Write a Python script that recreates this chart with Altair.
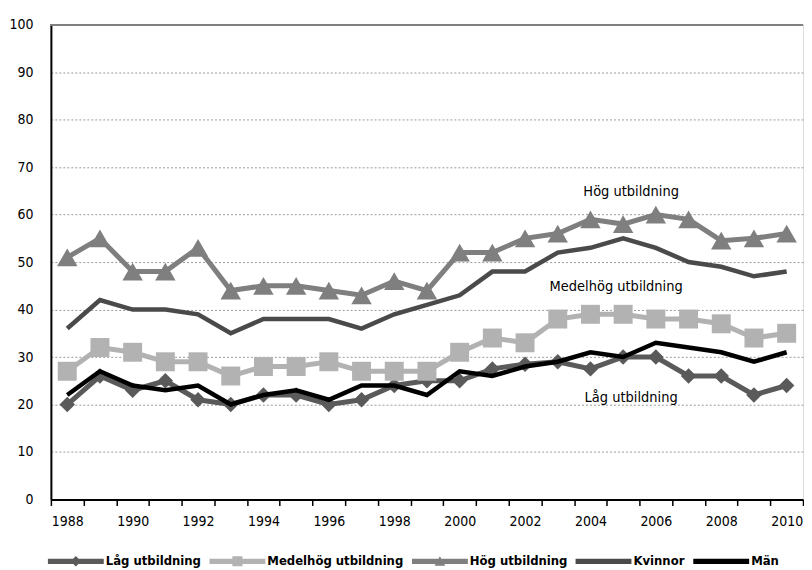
import altair as alt
import pandas as pd

years = list(range(1988, 2011))
lag = [20, 26, 23, 25, 21, 20, 22, 22, 20, 21, 24, 25, 25, 27.5, 28.5, 29, 27.5, 30, 30, 26, 26, 22, 24]
medel = [27, 32, 31, 29, 29, 26, 28, 28, 29, 27, 27, 27, 31, 34, 33, 38, 39, 39, 38, 38, 37, 34, 35]
hog = [51, 55, 48, 48, 53, 44, 45, 45, 44, 43, 46, 44, 52, 52, 55, 56, 59, 58, 60, 59, 54.5, 55, 56]
kvinnor = [36, 42, 40, 40, 39, 35, 38, 38, 38, 36, 39, 41, 43, 48, 48, 52, 53, 55, 53, 50, 49, 47, 48]
man = [22, 27, 24, 23, 24, 20, 22, 23, 21, 24, 24, 22, 27, 26, 28, 29, 31, 30, 33, 32, 31, 29, 31]

series_names = ["Låg utbildning", "Medelhög utbildning", "Hög utbildning", "Kvinnor", "Män"]
series_values = [lag, medel, hog, kvinnor, man]
series_colors = ["#5a5a5a", "#b2b2b2", "#7f7f7f", "#4a4a4a", "#000000"]
series_widths = [5, 5, 5, 4.5, 4.5]
series_markers = ["diamond", "square", "triangle-up", None, None]
marker_sizes = [240, 361, 420, 0, 0]

legend_paths = [
    "M-1,-0.095H1V0.095H-1ZM0,-0.19L0.19,0L0,0.19L-0.19,0Z",
    "M-1,-0.095H1V0.095H-1ZM-0.18,-0.18H0.18V0.18H-0.18Z",
    "M-1,-0.095H1V0.095H-1ZM0,-0.18L0.19,0.16H-0.19Z",
    "M-1,-0.095H1V0.095H-1Z",
    "M-1,-0.095H1V0.095H-1Z",
]

annot_text = ["Hög utbildning", "Medelhög utbildning", "Låg utbildning"]
annot_year = [2005, 2005, 2005]
annot_value = [64.7, 44.7, 21.4]
annot_dx = [8, -7, 8]

FONT = "DejaVu Sans Condensed, sans-serif"

rows = []
for name, vals in zip(series_names, series_values):
    for yr, v in zip(years, vals):
        rows.append({"year": yr, "value": v, "series": name})
df = pd.DataFrame(rows)

annot_df = pd.DataFrame({"text": annot_text, "year": annot_year, "value": annot_value})

x_enc = alt.X(
    "year:O",
    scale=alt.Scale(type="band", paddingInner=0, paddingOuter=0, domain=years),
    axis=alt.Axis(
        title=None,
        labelAngle=0,
        tickBand="extent",
        labelExpr="datum.value % 2 == 0 ? datum.label : ''",
        domainColor="#000000",
        domainWidth=2,
        tickColor="#000000",
        tickWidth=1.5,
        tickSize=6,
        labelFont=FONT,
        labelFontSize=14,
        labelColor="#000000",
        labelPadding=9,
        grid=False,
    ),
)
y_enc = alt.Y(
    "value:Q",
    scale=alt.Scale(domain=[0, 100], nice=False, zero=True),
    axis=alt.Axis(
        title=None,
        values=list(range(0, 101, 10)),
        domainColor="#000000",
        domainWidth=2,
        ticks=False,
        labelFont=FONT,
        labelFontSize=14,
        labelColor="#000000",
        labelPadding=18,
        grid=True,
        gridColor="#9a9a9a",
        gridDash=[2, 2],
        gridWidth=1,
    ),
)

base = alt.Chart(df)
layers = []

top_rule = alt.Chart(df).mark_rule(color="#808080", strokeWidth=1.5).encode(y=alt.datum(100))
layers.append(top_rule)

for name, color, width, marker, msize in zip(series_names, series_colors, series_widths, series_markers, marker_sizes):
    sub = base.transform_filter(alt.datum.series == name)
    layers.append(
        sub.mark_line(color=color, strokeWidth=width, strokeJoin="miter").encode(x=x_enc, y=y_enc)
    )
    if marker:
        layers.append(
            sub.mark_point(shape=marker, filled=True, color=color, size=msize, opacity=1).encode(x=x_enc, y=y_enc)
        )

legend_props = dict(
    title=None,
    orient="none",
    legendX=-3,
    legendY=510,
    direction="horizontal",
    columns=5,
    columnPadding=8,
    symbolSize=3136,
    symbolStrokeWidth=0,
    symbolOffset=0,
    labelOffset=2,
    labelFont=FONT,
    labelFontSize=13,
    labelFontWeight="bold",
    labelColor="#000000",
    symbolOpacity=1,
)

legend_layer = base.transform_filter("datum.year < 0").mark_point(filled=True, opacity=1, size=3136).encode(
    x=x_enc,
    y=y_enc,
    color=alt.Color(
        "series:N",
        scale=alt.Scale(domain=series_names, range=series_colors),
        legend=alt.Legend(**legend_props),
    ),
    shape=alt.Shape(
        "series:N",
        scale=alt.Scale(domain=series_names, range=legend_paths),
        legend=alt.Legend(**legend_props),
    ),
)
layers.append(legend_layer)

for i, dx in enumerate(annot_dx):
    layers.append(
        alt.Chart(annot_df.iloc[[i]])
        .mark_text(font=FONT, fontSize=14.5, color="#000000", baseline="middle", dx=dx)
        .encode(x=x_enc, y=y_enc, text="text:N")
    )

chart = alt.layer(*layers).properties(
    width=754,
    height=476,
    padding={"left": 0, "top": 9, "right": 0, "bottom": 0},
).configure_view(stroke=None).configure(background="#ffffff")

chart.save("out.html", embed_options={"renderer": "svg", "actions": False})
